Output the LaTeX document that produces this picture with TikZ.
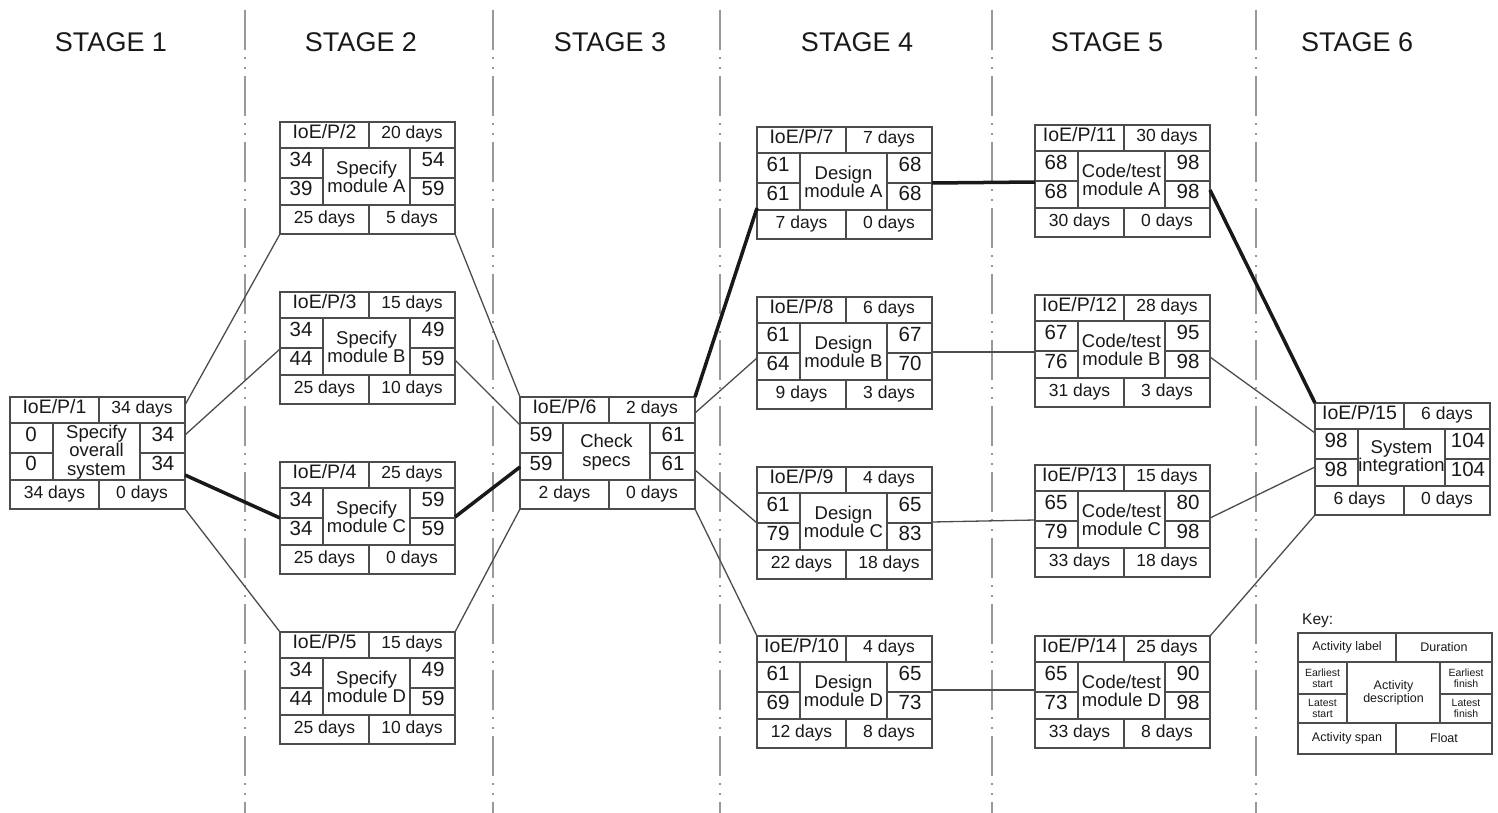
\documentclass[tikz,border=0pt]{standalone}
\usepackage{fontspec}
\setmainfont{Liberation Sans}
\usetikzlibrary{calc}
\definecolor{linecol}{gray}{0.3}
\definecolor{txtcol}{gray}{0.1}
\definecolor{sepcol}{gray}{0.6}
\tikzset{
  boxframe/.style={draw=linecol, line width=1.7pt, minimum width=175pt, minimum height=112pt, inner sep=0pt, outer sep=0pt, anchor=north west},
  keyframe/.style={draw=linecol, line width=1.7pt, minimum width=194pt, minimum height=121pt, inner sep=0pt, outer sep=0pt, anchor=north west},
  cellline/.style={draw=linecol, line width=1.3pt},
  link/.style={draw=linecol, line width=1.3pt},
  critical/.style={draw=black!90, line width=3.5pt},
  stagesep/.style={draw=sepcol, line width=1.6pt, dash pattern=on 40pt off 7pt on 2pt off 8pt on 2pt off 7pt},
  lbl/.style={font=\fontsize{19.5}{19.5}\selectfont, text=txtcol, inner sep=0pt, text height=0.72em, text depth=0pt},
  num/.style={font=\fontsize{20.5}{20.5}\selectfont, text=txtcol, inner sep=0pt, text height=0.72em, text depth=0pt},
  dur/.style={font=\fontsize{17.5}{17.5}\selectfont, text=txtcol, inner sep=0pt, text height=0.72em, text depth=0pt},
  desc/.style={font=\fontsize{18.5}{18.5}\selectfont, text=txtcol, inner sep=0pt, align=center},
  stage/.style={font=\fontsize{27}{27}\selectfont, text=txtcol, inner sep=0pt},
  keytxt/.style={font=\fontsize{12.5}{13}\selectfont, text=txtcol, inner sep=0pt, align=center},
  keysmall/.style={font=\fontsize{10.5}{11}\selectfont, text=txtcol, inner sep=0pt, align=center},
}
% #1 name, #2 top-left, #3 label, #4 duration, #5 ES, #6 EF, #7 LS, #8 LF, #9 description
\newcommand\actbox[9]{%
  \node[boxframe] (#1) at (#2) {};
  \begin{scope}[shift={(#1.north west)}]
    \draw[cellline] (0,26) -- (175,26) (0,83) -- (175,83)
      (89,0) -- (89,26) (89,83) -- (89,112)
      (43,26) -- (43,83) (130,26) -- (130,83)
      (0,56) -- (43,56) (130,56) -- (175,56);
    \node[lbl] (#1-lab) at (44.5,13) {#3};
    \node[dur] (#1-dur) at (132,13) {#4};
    \node[num] (#1-es) at (21,41) {#5};
    \node[num] (#1-ef) at (153,41) {#6};
    \node[num] (#1-ls) at (21,69.5) {#7};
    \node[num] (#1-lf) at (153,69.5) {#8};
    \node[desc] (#1-desc) at (86.5,55) {#9};
  \end{scope}}
\newcommand\actfoot[3]{%
  \begin{scope}[shift={(#1.north west)}]
    \node[dur] (#1-span) at (44.5,97.5) {#2};
    \node[dur] (#1-float) at (132,97.5) {#3};
  \end{scope}}
\begin{document}
\begin{tikzpicture}[x=1pt, y=-1pt]
\useasboundingbox (0,0) rectangle (1498,813);
% stage separators
\foreach \sx in {245,493,720,992,1256}{\draw[stagesep] (\sx,10) -- (\sx,813);}
% stage headers
\node[stage] (s1) at (111,42) {STAGE 1};
\node[stage] (s2) at (361,42) {STAGE 2};
\node[stage] (s3) at (610,42) {STAGE 3};
\node[stage] (s4) at (857,42) {STAGE 4};
\node[stage] (s5) at (1107,42) {STAGE 5};
\node[stage] (s6) at (1357,42) {STAGE 6};
% activity boxes
\actbox{b1}{10,397}{IoE/P/1}{34 days}{0}{34}{0}{34}{Specify\\overall\\system}\actfoot{b1}{34 days}{0 days}
\actbox{b2}{280,122}{IoE/P/2}{20 days}{34}{54}{39}{59}{Specify\\module A}\actfoot{b2}{25 days}{5 days}
\actbox{b3}{280,292}{IoE/P/3}{15 days}{34}{49}{44}{59}{Specify\\module B}\actfoot{b3}{25 days}{10 days}
\actbox{b4}{280,462}{IoE/P/4}{25 days}{34}{59}{34}{59}{Specify\\module C}\actfoot{b4}{25 days}{0 days}
\actbox{b5}{280,632}{IoE/P/5}{15 days}{34}{49}{44}{59}{Specify\\module D}\actfoot{b5}{25 days}{10 days}
\actbox{b6}{520,397}{IoE/P/6}{2 days}{59}{61}{59}{61}{Check\\specs}\actfoot{b6}{2 days}{0 days}
\actbox{b7}{757,127}{IoE/P/7}{7 days}{61}{68}{61}{68}{Design\\module A}\actfoot{b7}{7 days}{0 days}
\actbox{b8}{757,297}{IoE/P/8}{6 days}{61}{67}{64}{70}{Design\\module B}\actfoot{b8}{9 days}{3 days}
\actbox{b9}{757,467}{IoE/P/9}{4 days}{61}{65}{79}{83}{Design\\module C}\actfoot{b9}{22 days}{18 days}
\actbox{b10}{757,636}{IoE/P/10}{4 days}{61}{65}{69}{73}{Design\\module D}\actfoot{b10}{12 days}{8 days}
\actbox{b11}{1035,125}{IoE/P/11}{30 days}{68}{98}{68}{98}{Code/test\\module A}\actfoot{b11}{30 days}{0 days}
\actbox{b12}{1035,295}{IoE/P/12}{28 days}{67}{95}{76}{98}{Code/test\\module B}\actfoot{b12}{31 days}{3 days}
\actbox{b13}{1035,465}{IoE/P/13}{15 days}{65}{80}{79}{98}{Code/test\\module C}\actfoot{b13}{33 days}{18 days}
\actbox{b14}{1035,636}{IoE/P/14}{25 days}{65}{90}{73}{98}{Code/test\\module D}\actfoot{b14}{33 days}{8 days}
\actbox{b15}{1315,403}{IoE/P/15}{6 days}{98}{104}{98}{104}{System\\integration}\actfoot{b15}{6 days}{0 days}
% connectors
\draw[link] ([yshift=-8pt]b1.north east) -- (b2.south west);
\draw[link] ([yshift=-38pt]b1.north east) -- ([yshift=-57pt]b3.north west);
\draw[critical] ([yshift=-78pt]b1.north east) -- ([yshift=-56pt]b4.north west);
\draw[link] (b1.south east) -- (b5.north west);
\draw[link] (b2.south east) -- (b6.north west);
\draw[link] ([yshift=-68pt]b3.north east) -- ([yshift=-28pt]b6.north west);
\draw[critical] ([yshift=-55pt]b4.north east) -- ([yshift=-70pt]b6.north west);
\draw[link] (b5.north east) -- (b6.south west);
\draw[critical] (b6.north east) -- ([yshift=-81pt]b7.north west);
\draw[link] ([yshift=-16pt]b6.north east) -- ([yshift=-61pt]b8.north west);
\draw[link] ([yshift=-73pt]b6.north east) -- ([yshift=-56pt]b9.north west);
\draw[link] (b6.south east) -- (b10.north west);
\draw[critical] ([yshift=-56pt]b7.north east) -- ([yshift=-57pt]b11.north west);
\draw[link] ([yshift=-55pt]b8.north east) -- ([yshift=-57pt]b12.north west);
\draw[link] ([yshift=-55pt]b9.north east) -- ([yshift=-55pt]b13.north west);
\draw[link] ([yshift=-54pt]b10.north east) -- ([yshift=-54pt]b14.north west);
\draw[critical] ([yshift=-65pt]b11.north east) -- (b15.north west);
\draw[link] ([yshift=-62pt]b12.north east) -- ([yshift=-30pt]b15.north west);
\draw[link] ([yshift=-53pt]b13.north east) -- ([yshift=-64pt]b15.north west);
\draw[link] (b14.north east) -- (b15.south west);
% key
\node[anchor=west, font=\fontsize{15.5}{15.5}\selectfont, text=txtcol, inner sep=0pt] (keytitle) at (1302,621) {Key:};
\node[keyframe] (key) at (1298,633) {};
\begin{scope}[shift={(key.north west)}]
  \draw[cellline] (0,29) -- (194,29) (0,90) -- (194,90)
    (98,0) -- (98,29) (98,90) -- (98,121)
    (49,29) -- (49,90) (142,29) -- (142,90)
    (0,61) -- (49,61) (142,61) -- (194,61);
  \node[keytxt] (k-lab) at (49,14.5) {Activity label};
  \node[keytxt] (k-dur) at (146,14.5) {Duration};
  \node[keysmall] (k-es) at (24.5,45) {Earliest\\start};
  \node[keysmall] (k-ls) at (24.5,75.5) {Latest\\start};
  \node[keytxt] (k-desc) at (95.5,59.5) {Activity\\description};
  \node[keysmall] (k-ef) at (168,45) {Earliest\\finish};
  \node[keysmall] (k-lf) at (168,75.5) {Latest\\finish};
  \node[keytxt] (k-span) at (49,105.5) {Activity span};
  \node[keytxt] (k-float) at (146,105.5) {Float};
\end{scope}
\end{tikzpicture}
\end{document}
